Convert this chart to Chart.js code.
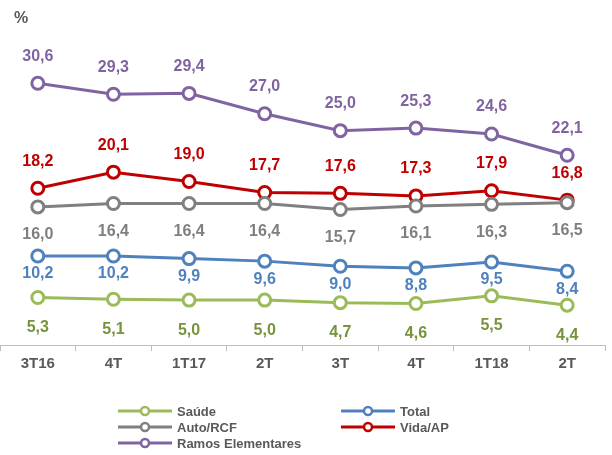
<!DOCTYPE html>
<html>
<head>
<meta charset="utf-8">
<script src="https://cdn.jsdelivr.net/npm/chart.js@4.4.0/dist/chart.umd.min.js"></script>
<style>
  html, body { margin: 0; padding: 0; background: #fff; }
  #wrap { position: relative; width: 612px; height: 455px; }
</style>
</head>
<body>
<div id="wrap"><canvas id="chart" width="612" height="455"></canvas></div>
<script>
// Quarters on the x axis
const quarters = ['3T16', '4T', '1T17', '2T', '3T', '4T', '1T18', '2T'];

// Series values (%)
const saude = [5.3, 5.1, 5.0, 5.0, 4.7, 4.6, 5.5, 4.4];
const total = [10.2, 10.2, 9.9, 9.6, 9.0, 8.8, 9.5, 8.4];
const autoRcf = [16.0, 16.4, 16.4, 16.4, 15.7, 16.1, 16.3, 16.5];
const vidaAp = [18.2, 20.1, 19.0, 17.7, 17.6, 17.3, 17.9, 16.8];
const ramos = [30.6, 29.3, 29.4, 27.0, 25.0, 25.3, 24.6, 22.1];

const FONT = '"Liberation Sans", Arial, sans-serif';

// line colour, label colour, label offset (negative = above the point)
const makeSeries = (label, data, color, labelColor, offset) => ({
    label,
    data,
    borderColor: color,
    backgroundColor: '#ffffff',
    pointBackgroundColor: '#ffffff',
    pointBorderColor: color,
    pointBorderWidth: 3,
    pointRadius: 6,
    borderWidth: 3,
    tension: 0,
    clip: false,
    labelColor,
    labelOffset: offset
});

const datasets = [
    makeSeries('Saúde', saude, '#9BBB59', '#77933C', 30),
    makeSeries('Total', total, '#4F81BD', '#4F81BD', 18),
    makeSeries('Auto/RCF', autoRcf, '#808080', '#7F7F7F', 28),
    makeSeries('Vida/AP', vidaAp, '#C00000', '#C00000', -27),
    makeSeries('Ramos Elementares', ramos, '#8064A2', '#8064A2', -27)
];

// Value labels next to every point
const valueLabels = {
    id: 'valueLabels',
    afterDatasetsDraw(chart) {
        const ctx = chart.ctx;
        ctx.save();
        ctx.font = 'bold 16px ' + FONT;
        ctx.textAlign = 'center';
        ctx.textBaseline = 'middle';
        chart.data.datasets.forEach((ds, i) => {
            const meta = chart.getDatasetMeta(i);
            ctx.fillStyle = ds.labelColor;
            meta.data.forEach((pt, j) => {
                ctx.fillText(ds.data[j].toFixed(1).replace('.', ','), pt.x, pt.y + ds.labelOffset);
            });
        });
        // unit marker
        ctx.fillStyle = '#595959';
        ctx.textAlign = 'left';
        ctx.fillText('%', 14, 19);
        ctx.restore();
    }
};

// Two-column legend with line + ring symbols
const lineLegend = {
    id: 'lineLegend',
    afterDraw(chart) {
        const ctx = chart.ctx;
        const cols = [118, 341];
        const rows = [411, 427, 443];
        ctx.save();
        ctx.font = 'bold 13px ' + FONT;
        ctx.textBaseline = 'middle';
        ctx.textAlign = 'left';
        chart.data.datasets.forEach((ds, i) => {
            const x = cols[i % 2];
            const y = rows[Math.floor(i / 2)];
            ctx.strokeStyle = ds.borderColor;
            ctx.lineWidth = 3;
            ctx.beginPath();
            ctx.moveTo(x, y);
            ctx.lineTo(x + 54, y);
            ctx.stroke();
            ctx.beginPath();
            ctx.arc(x + 27, y, 4, 0, Math.PI * 2);
            ctx.fillStyle = '#ffffff';
            ctx.fill();
            ctx.lineWidth = 2.5;
            ctx.stroke();
            ctx.fillStyle = '#595959';
            ctx.fillText(ds.label, x + 59, y + 1);
        });
        ctx.restore();
    }
};

new Chart(document.getElementById('chart').getContext('2d'), {
    type: 'line',
    data: { labels: quarters, datasets },
    options: {
        responsive: false,
        animation: false,
        layout: {
            autoPadding: false,
            padding: { left: 0, right: 7, top: 40, bottom: 78 }
        },
        scales: {
            x: {
                offset: true,
                // let the axis run to the canvas edges
                afterFit: (scale) => {
                    scale.paddingLeft = 0;
                    scale.paddingRight = 0;
                },
                border: { display: true, color: '#BFBFBF', width: 1 },
                grid: {
                    offset: true,
                    drawOnChartArea: false,
                    drawTicks: true,
                    tickLength: 6,
                    color: '#BFBFBF'
                },
                ticks: {
                    color: '#595959',
                    font: { family: FONT, size: 15, weight: 'bold' },
                    padding: 4,
                    maxRotation: 0,
                    autoSkip: false
                }
            },
            y: {
                display: false,
                min: -0.3,
                max: 35.7
            }
        },
        plugins: {
            legend: { display: false },
            tooltip: { enabled: false }
        }
    },
    plugins: [valueLabels, lineLegend]
});
</script>
</body>
</html>
